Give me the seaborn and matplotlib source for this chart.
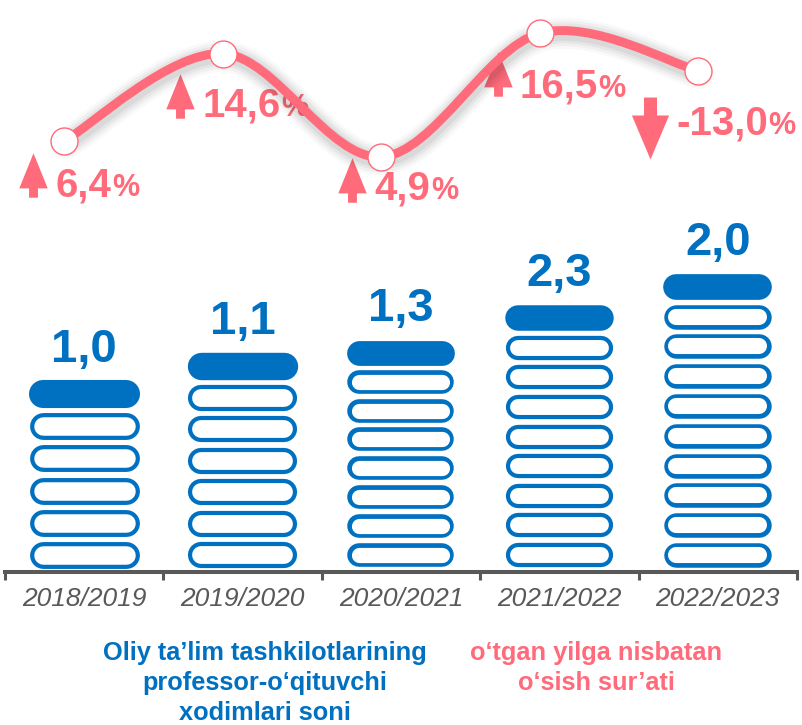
import numpy as np
import pandas as pd
import matplotlib
matplotlib.use('Agg')
import matplotlib.pyplot as plt
import matplotlib.patheffects as pe
from matplotlib.path import Path
from matplotlib.patches import PathPatch
from matplotlib.transforms import ScaledTranslation
import seaborn as sns

# ---------------- data ----------------
years = ['2018/2019', '2019/2020', '2020/2021', '2021/2022', '2022/2023']
staff_values = [1.0, 1.1, 1.3, 2.3, 2.0]
icon_rows = [6, 7, 8, 9, 10]
growth_pct = [6.4, 14.6, 4.9, 16.5, -13.0]
legend_staff = ['Oliy ta’lim tashkilotlarining', 'professor-o‘qituvchi', 'xodimlari soni']
legend_growth = ['o‘tgan yilga nisbatan', 'o‘sish sur’ati']

# ---------------- style ----------------
BLUE = '#0070C0'
PINK = '#FF6B7A'
GREY = '#595959'
ROW_PITCH = [32.2, 31.5, 28.9, 29.6, 29.8]   # px between stacked icons per column

sns.set_theme(style='white')
plt.rcParams['font.family'] = ['Liberation Sans', 'DejaVu Sans']

W, H = 803, 725
PT = 0.72  # points per pixel at dpi 100
fig = plt.figure(figsize=(W / 100, H / 100), dpi=100)
AX_BOT = 572
ax = fig.add_axes([5 / W, 1 - AX_BOT / H, 792 / W, AX_BOT / H])
ax.set_xlim(-0.5, 4.5)
ax.set_ylim(0, AX_BOT)

# ---------------- pictogram bars ----------------
recs = [(i, r, r == n - 1) for i, n in enumerate(icon_rows) for r in range(n)]
df = pd.DataFrame(recs, columns=['col', 'row', 'cap'])
df['pitch'] = df.col.map(lambda c: ROW_PITCH[c])
df['yc'] = 17 + df.row * df.pitch
HL = 41.5 / 158.4
for c, g in df.groupby('col'):
    p = ROW_PITCH[c]
    outer = p - 5.3
    body = g[~g.cap]
    cap = g[g.cap]
    ax.hlines(body.yc, body.col - HL, body.col + HL, colors=BLUE,
              lw=outer * PT, capstyle='round', zorder=2)
    ax.hlines(body.yc, body.col - HL, body.col + HL, colors='white',
              lw=(outer - 8.4) * PT, capstyle='round', zorder=3)
    ax.hlines(cap.yc, cap.col - HL, cap.col + HL, colors=BLUE,
              lw=(outer + 1.2) * PT, capstyle='round', zorder=3)
    ax.text(c, cap.yc.iloc[0] + 32, f"{staff_values[c]:.1f}".replace('.', ','),
            ha='center', va='baseline', fontsize=34, weight='bold',
            color=BLUE, zorder=4)

# axis
for s in ['left', 'right', 'top']:
    ax.spines[s].set_visible(False)
ax.spines['bottom'].set_color(GREY)
ax.spines['bottom'].set_linewidth(2.9)
ax.set_yticks([])
ax.set_xticks(range(len(years)))
ax.set_xticklabels(years, fontsize=19, color=GREY, fontstyle='italic')
ax.set_xticks(np.arange(-0.5, len(years), 1), minor=True)
ax.tick_params(axis='x', which='major', length=0, pad=10.5, bottom=True)
ax.tick_params(axis='x', which='minor', length=5.8, width=2.2, color=GREY,
               direction='out', bottom=True)
ax.grid(False)

# ---------------- growth line ----------------
ax2 = ax.twinx()
ax2.set_ylim(-34.08, 19.63)
ax2.set_axis_off()

xs = np.arange(len(growth_pct)) - 0.125
ys = np.abs(np.array(growth_pct))
P = np.column_stack([xs, ys])
ext = np.vstack([P[0], P, P[-1]])
verts = [P[0]]
codes = [Path.MOVETO]
for k in range(len(P) - 1):
    c1 = ext[k + 1] + (ext[k + 2] - ext[k]) / 6
    c2 = ext[k + 2] - (ext[k + 3] - ext[k + 1]) / 6
    verts += [c1, c2, ext[k + 2]]
    codes += [Path.CURVE4] * 3
LW = 6.4
curve = PathPatch(Path(verts, codes), transform=ax2.transData, fill=False,
                  edgecolor=PINK, lw=LW, capstyle='round', joinstyle='round',
                  zorder=3)
shadow = [pe.Stroke(linewidth=LW + w, foreground='black', alpha=a, offset=(1, -2))
          for w, a in [(16, 0.025), (12, 0.035), (8, 0.045), (4, 0.05)]]
curve.set_path_effects(shadow + [pe.Normal()])
ax2.add_patch(curve)

sns.scatterplot(x=xs, y=ys, ax=ax2, s=19.4 ** 2, color='white',
                edgecolor=PINK, linewidth=1, zorder=5, legend=False)

up_arrow = Path([(0, 1), (0.64, -0.58), (0.2, -0.58), (0.2, -1), (-0.2, -1),
                 (-0.2, -0.58), (-0.64, -0.58), (0, 1)], closed=True)
down_arrow = Path([(0, -1), (0.6, 0.42), (0.21, 0.42), (0.21, 1), (-0.21, 1),
                   (-0.21, 0.42), (-0.6, 0.42), (0, -1)], closed=True)

text_off = [(-9, 56), (-20, 63.4), (-7, 43), (-20, 63.7), (-22, 64.3)]
arrow_off = [(-31, 34), (-43, 42), (-29, 23), (-42, 41), (-48, 57)]

for i, g in enumerate(growth_pct):
    dx, dy = text_off[i]
    tt = ax2.transData + ScaledTranslation(dx / 100, -dy / 100, fig.dpi_scale_trans)
    num = ax2.text(xs[i], ys[i], f"{g:.1f}".replace('.', ','), transform=tt,
                   ha='left', va='baseline', fontsize=29, weight='bold',
                   color=PINK, zorder=2)
    ax2.annotate('%', xy=(1, 0), xycoords=num, xytext=(0.5, 6.1),
                 textcoords='offset points', ha='left', va='baseline',
                 fontsize=22, weight='bold', color=PINK, zorder=2)
    ax_, ay_ = arrow_off[i]
    ta = ax2.transData + ScaledTranslation(ax_ / 100, -ay_ / 100, fig.dpi_scale_trans)
    ax2.plot([xs[i]], [ys[i]], linestyle='none', transform=ta,
             marker=up_arrow if g >= 0 else down_arrow,
             markersize=32 if g >= 0 else 44.6, markerfacecolor=PINK,
             markeredgewidth=0, zorder=2)

# ---------------- bottom legend text ----------------
for k, line in enumerate(legend_staff):
    fig.text(265 / W, 1 - (660 + 30 * k) / H, line, ha='center', va='baseline',
             fontsize=18.3, weight='bold', color=BLUE)
for k, line in enumerate(legend_growth):
    fig.text(596 / W, 1 - (660 + 30 * k) / H, line, ha='center', va='baseline',
             fontsize=18.3, weight='bold', color=PINK)

fig.savefig('out.png', dpi=100)
